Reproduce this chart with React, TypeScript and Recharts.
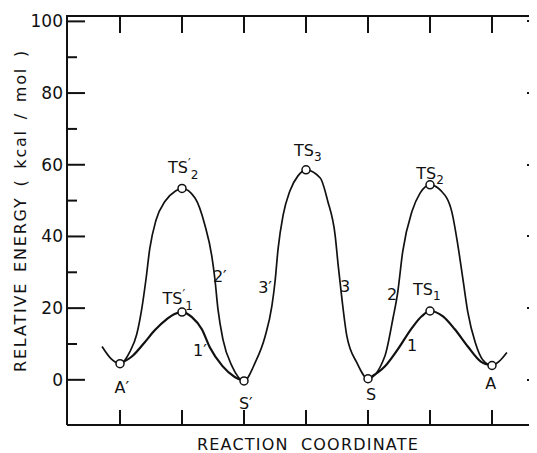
import { ComposedChart, Label, Line, Scatter, XAxis, YAxis } from "recharts";

const INK = "#111";
const FONT = "'DejaVu Sans', sans-serif";

// stations along the reaction coordinate: A', TS1', S', TS3, S, TS1, A
const stations = [0, 1, 2, 3, 4, 5, 6];
const energyTicks = [0, 10, 20, 30, 40, 50, 60, 70, 80, 90, 100];

// upper path: A' -> TS2' -> S' -> TS3 -> S -> TS2 -> A  (curves 2', 3', 3, 2)
const upperPath: [number, number][] = [
  [-0.29, 9.3], [-0.15, 6.0], [0, 4.5], [0.16, 7.9], [0.27, 12.7], [0.35, 19.7],
  [0.42, 28.2], [0.48, 36.6], [0.58, 44.5], [0.73, 49.9], [0.89, 52.6], [1, 53.4],
  [1.21, 50.7], [1.37, 43.1], [1.48, 34.6], [1.53, 28.2], [1.58, 19.7], [1.66, 11.3],
  [1.81, 3.7], [2, -0.3],
  [2.18, 4.8], [2.34, 12.1], [2.45, 20.6], [2.5, 27.3], [2.55, 36.6], [2.63, 45.9],
  [2.74, 52.7], [2.87, 56.9], [3, 58.6], [3.23, 56.3], [3.35, 49.9], [3.47, 40.3],
  [3.52, 31.8], [3.58, 22.5], [3.66, 12.1], [3.82, 4.8], [4, 0.3],
  [4.27, 6.5], [4.4, 16.9], [4.48, 24.5], [4.56, 35.8], [4.71, 47.0], [4.84, 52.1],
  [5, 54.4], [5.18, 52.7], [5.35, 47.0], [5.45, 37.5], [5.53, 28.2], [5.61, 18.9],
  [5.73, 10.4], [5.85, 5.6], [6, 4.0], [6.12, 5.2], [6.24, 7.6],
];

// lower path 1': A' -> TS1' -> S'
const lowerPathPrime: [number, number][] = [
  [0, 4.5], [0.21, 6.8], [0.4, 10.5], [0.56, 13.8], [0.76, 17.0], [0.88, 18.4],
  [1, 18.9], [1.16, 17.5], [1.32, 14.1], [1.45, 9.0], [1.65, 3.9], [1.85, 0.8], [2, -0.3],
];

// lower path 1: S -> TS1 -> A
const lowerPath: [number, number][] = [
  [4, 0.3], [4.27, 3.7], [4.48, 8.5], [4.71, 14.5], [4.87, 17.8], [5, 19.2],
  [5.21, 17.7], [5.4, 14.1], [5.61, 9.3], [5.82, 5.1], [6, 4.0],
];

// open circles on minima and transition states
const markerPoints: [number, number][] = [
  [0, 4.5], [1, 18.9], [1, 53.4], [2, -0.3], [3, 58.6],
  [4, 0.3], [5, 54.4], [5, 19.2], [6, 4.0],
];

// text, subscript, prime, position
const annotations: { x: number; y: number; text: string; sub?: string; prime?: boolean }[] = [
  { x: 0.03, y: -2.0, text: "A′" },
  { x: 2.03, y: -6.5, text: "S′" },
  { x: 4.05, y: -4.0, text: "S" },
  { x: 5.98, y: -0.9, text: "A" },
  { x: 0.93, y: 22.8, text: "TS", sub: "1", prime: true },
  { x: 1.02, y: 59.4, text: "TS", sub: "2", prime: true },
  { x: 3.03, y: 64.1, text: "TS", sub: "3" },
  { x: 5.0, y: 57.7, text: "TS", sub: "2" },
  { x: 4.95, y: 25.3, text: "TS", sub: "1" },
  { x: 1.61, y: 29.0, text: "2′" },
  { x: 1.29, y: 8.3, text: "1′" },
  { x: 2.34, y: 25.9, text: "3′" },
  { x: 3.63, y: 26.2, text: "3" },
  { x: 4.39, y: 23.9, text: "2" },
  { x: 4.71, y: 9.7, text: "1" },
];

const toRows = (pts: [number, number][]) => pts.map(([x, y]) => ({ x, y }));

const X_DOMAIN: [number, number] = [-0.855, 6.855];
const Y_DOMAIN: [number, number] = [-12.6, 101.5];

const CHART_W = 560;
const CHART_H = 445;
const MARGIN = { top: 8, right: 23, bottom: 0, left: 0 };
const Y_AXIS_W = 59;
const X_AXIS_H = 28;
const PLOT_TOP = MARGIN.top;
const PLOT_LEFT = Y_AXIS_W;
const PLOT_RIGHT = CHART_W - MARGIN.right;
const PLOT_BOTTOM = CHART_H - X_AXIS_H;

// frame helpers (top and right sides mirror the bottom/left axes)
const frameX = (v: number) =>
  PLOT_LEFT + ((v - X_DOMAIN[0]) / (X_DOMAIN[1] - X_DOMAIN[0])) * (PLOT_RIGHT - PLOT_LEFT);
const frameY = (v: number) =>
  PLOT_TOP + ((Y_DOMAIN[1] - v) / (Y_DOMAIN[1] - Y_DOMAIN[0])) * (PLOT_BOTTOM - PLOT_TOP);

const LeftTick = (props: any) => {
  const { x, y, payload } = props;
  const len = payload.value % 20 === 0 ? 18 : 10;
  return (
    <g>
      <line x1={x} x2={x + len} y1={y} y2={y} stroke={INK} strokeWidth={2} />
      {len === 18 && (
        <text x={x - 4} y={y + 6} textAnchor="end" fontSize={17} fontFamily={FONT} fill={INK}>
          {payload.value}
        </text>
      )}
    </g>
  );
};

const BottomTick = (props: any) => (
  <line x1={props.x} x2={props.x} y1={props.y} y2={props.y - 15} stroke={INK} strokeWidth={2} />
);

const Marker = (props: any) => (
  <circle cx={props.cx} cy={props.cy} r={4} fill="#fff" stroke={INK} strokeWidth={1.5} />
);

const Annotation = (props: any) => {
  const { cx, cy, payload } = props;
  return (
    <text x={cx} y={cy + 6} textAnchor="middle" fontSize={16} fontFamily={FONT} fill={INK}>
      <tspan>{payload.text}</tspan>
      {payload.prime && (
        <tspan dy={-6} fontSize={12}>
          ′
        </tspan>
      )}
      {payload.sub && (
        <tspan dy={payload.prime ? 12 : 5} fontSize={12}>
          {payload.sub}
        </tspan>
      )}
    </text>
  );
};

const YTitle = (props: any) => {
  const { x, y, height } = props.viewBox;
  const cx = x + 12;
  const cy = y + height / 2 - 10;
  return (
    <text
      x={cx}
      y={cy}
      transform={`rotate(-90, ${cx}, ${cy})`}
      textAnchor="middle"
      dominantBaseline="central"
      fontSize={16}
      letterSpacing={1.8}
      wordSpacing={3}
      fontFamily={FONT}
      fill={INK}
    >
      RELATIVE ENERGY ( kcal / mol )
    </text>
  );
};

const XTitle = (props: any) => {
  const { x, y, width } = props.viewBox;
  return (
    <text
      x={x + width / 2 + 2}
      y={y + 25}
      textAnchor="middle"
      fontSize={16}
      letterSpacing={1.2}
      wordSpacing={6}
      fontFamily={FONT}
      fill={INK}
    >
      REACTION COORDINATE
    </text>
  );
};

// top edge with downward ticks, right edge with leftward ticks (plain boxes)
const bar = (left: number, top: number, width: number, height: number) => ({
  position: "absolute" as const,
  left,
  top,
  width,
  height,
  background: INK,
});

function FrameOverlay() {
  return (
    <div style={{ position: "absolute", left: 0, top: 0, width: CHART_W, height: CHART_H, pointerEvents: "none" }}>
      <div style={bar(PLOT_LEFT - 1, PLOT_TOP - 1, PLOT_RIGHT - PLOT_LEFT + 2, 2)} />
      <div style={bar(PLOT_RIGHT - 1, PLOT_TOP - 1, 2, PLOT_BOTTOM - PLOT_TOP + 2)} />
      {stations.map((s) => (
        <div key={`t${s}`} style={bar(frameX(s) - 1, PLOT_TOP, 2, 17)} />
      ))}
      {energyTicks.map((v) => {
        const len = v % 20 === 0 ? 18 : 10;
        return <div key={`r${v}`} style={bar(PLOT_RIGHT - len, frameY(v) - 1, len, 2)} />;
      })}
    </div>
  );
}

const ids = { xAxisId: "bottom", yAxisId: "left" };

export default function App() {
  return (
    <div
      style={{ position: "relative", width: 529, height: CHART_H, overflow: "hidden", background: "#fff" }}
    >
      <style>{"html,body{overflow:hidden;background:#fff}"}</style>
      <ComposedChart width={CHART_W} height={CHART_H} margin={MARGIN}>
        <XAxis
          xAxisId="bottom"
          dataKey="x"
          type="number"
          domain={X_DOMAIN}
          ticks={stations}
          allowDataOverflow
          height={X_AXIS_H}
          tickSize={0}
          tickMargin={0}
          tickLine={false}
          tick={BottomTick}
          axisLine={{ stroke: INK, strokeWidth: 2 }}
        >
          <Label content={XTitle} />
        </XAxis>
        <YAxis
          yAxisId="left"
          dataKey="y"
          type="number"
          domain={Y_DOMAIN}
          ticks={energyTicks}
          allowDataOverflow
          width={Y_AXIS_W}
          tickSize={0}
          tickMargin={0}
          tickLine={false}
          tick={LeftTick}
          axisLine={{ stroke: INK, strokeWidth: 2 }}
        >
          <Label content={YTitle} />
        </YAxis>

        <Line
          {...ids}
          data={toRows(upperPath)}
          dataKey="y"
          type="monotone"
          stroke={INK}
          strokeWidth={1.7}
          dot={false}
          activeDot={false}
          isAnimationActive={false}
        />
        <Line
          {...ids}
          data={toRows(lowerPathPrime)}
          dataKey="y"
          type="monotone"
          stroke={INK}
          strokeWidth={2.2}
          dot={false}
          activeDot={false}
          isAnimationActive={false}
        />
        <Line
          {...ids}
          data={toRows(lowerPath)}
          dataKey="y"
          type="monotone"
          stroke={INK}
          strokeWidth={2.2}
          dot={false}
          activeDot={false}
          isAnimationActive={false}
        />
        <Scatter {...ids} data={toRows(markerPoints)} shape={Marker} isAnimationActive={false} />
        <Scatter {...ids} data={annotations} shape={Annotation} isAnimationActive={false} />
      </ComposedChart>
      <FrameOverlay />
    </div>
  );
}
